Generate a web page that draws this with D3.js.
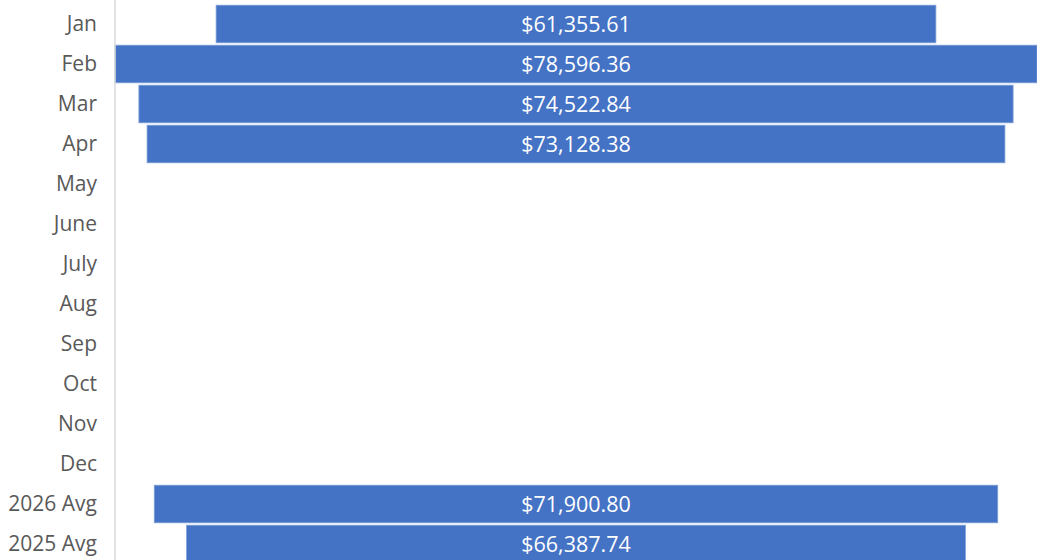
<!DOCTYPE html>
<html>
<head>
<meta charset="utf-8">
<script src="https://cdn.jsdelivr.net/npm/d3@7"></script>
<style>
  body { margin: 0; background: #fff; }
  svg { display: block; }
</style>
</head>
<body>
<div id="canvas"></div>
<script>
  // chart data
  var categories = ['Jan', 'Feb', 'Mar', 'Apr', 'May', 'June', 'July', 'Aug', 'Sep', 'Oct', 'Nov', 'Dec', '2026 Avg', '2025 Avg'];
  var values = [61355.61, 78596.36, 74522.84, 73128.38, null, null, null, null, null, null, null, null, 71900.80, 66387.74];

  var width = 1037, height = 560;
  var plotLeft = 115, plotRight = 1037;
  var center = (plotLeft + plotRight) / 2;
  var fontFamily = '"Open Sans", sans-serif';

  var svg = d3.select('#canvas')
    .append('svg')
    .attr('width', width)
    .attr('height', height);

  var y = d3.scaleBand()
    .domain(categories)
    .range([4, 564])
    .paddingInner(0.06)
    .paddingOuter(0.03);

  // width of a bar (centered like a funnel)
  var w = d3.scaleLinear()
    .domain([0, d3.max(values)])
    .range([0, plotRight - plotLeft]);

  var fmt = d3.format('$,.2f');

  var rows = categories.map(function (c, i) {
    return { cat: c, value: values[i] };
  });
  var filled = rows.filter(function (d) { return d.value != null; });

  svg.append('g')
    .selectAll('rect')
    .data(filled)
    .enter()
    .append('rect')
    .attr('x', function (d) { return center - w(d.value) / 2; })
    .attr('y', function (d) { return y(d.cat); })
    .attr('width', function (d) { return w(d.value); })
    .attr('height', y.bandwidth())
    .attr('fill', '#4472C4')
    .attr('stroke', '#7f9fd8')
    .attr('stroke-width', 0.8);

  svg.append('g')
    .selectAll('text')
    .data(filled)
    .enter()
    .append('text')
    .attr('x', center)
    .attr('y', function (d) { return y(d.cat) + y.bandwidth() / 2; })
    .attr('dy', '0.35em')
    .attr('text-anchor', 'middle')
    .attr('fill', '#ffffff')
    .style('font-family', fontFamily)
    .style('font-size', '21.5px')
    .text(function (d) { return fmt(d.value); });

  // category axis
  var axis = d3.axisLeft(y).tickSize(0).tickPadding(18);
  var gAxis = svg.append('g')
    .attr('transform', 'translate(' + plotLeft + ',0)')
    .call(axis);
  gAxis.select('.domain')
    .attr('stroke', '#d9d9d9')
    .attr('stroke-width', 1.5)
    .attr('d', 'M0,0V' + height);
  gAxis.selectAll('text')
    .style('font-family', fontFamily)
    .style('font-size', '21px')
    .attr('fill', '#595959');
</script>
</body>
</html>
